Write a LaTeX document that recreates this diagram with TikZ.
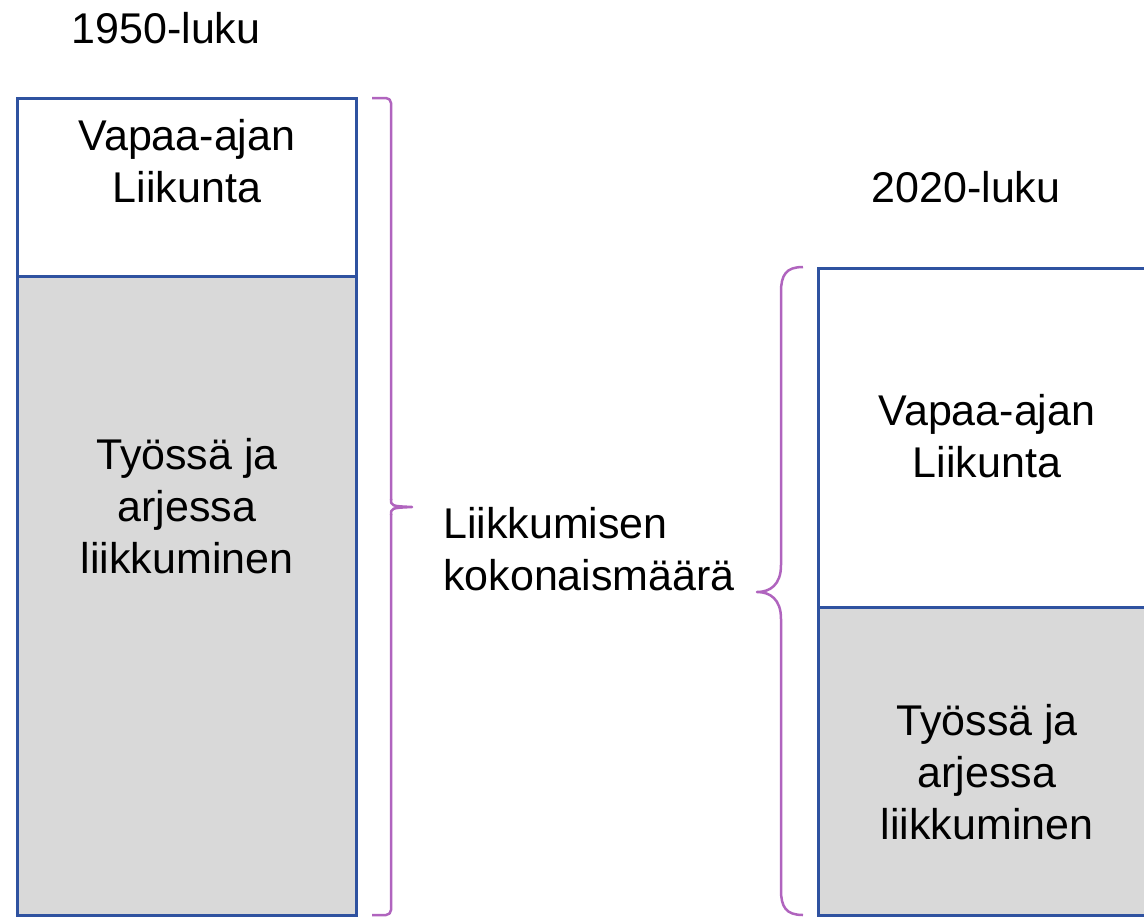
\documentclass[tikz,border=0pt]{standalone}
\usepackage{fontspec}
\setmainfont{Liberation Sans}
\definecolor{boxblue}{RGB}{47,82,160}
\definecolor{bracepurple}{RGB}{176,100,190}
\definecolor{boxgray}{RGB}{217,217,217}
\begin{document}
\begin{tikzpicture}[x=1pt,y=-1pt,
  lbl/.style={inner sep=0pt, align=center, font=\fontsize{43}{52}\selectfont},
  boxw/.style={draw=boxblue, line width=3pt, fill=white, minimum width=339pt, inner sep=0pt},
  boxg/.style={draw=boxblue, line width=3pt, fill=boxgray, minimum width=339pt, inner sep=0pt},
  brace/.style={draw=bracepurple, line width=2.5pt, line join=round}]
\useasboundingbox (0,0) rectangle (1144,918);
\clip (0,0) rectangle (1144,918);
% left column
\node[boxg, minimum height=639pt] (lb) at (186.5,595.5) {};
\node[boxw, minimum height=178pt] (lt) at (186.5,187) {};
% right column
\node[boxg, minimum height=308pt] (rb) at (987.5,761) {};
\node[boxw, minimum height=339pt] (rt) at (987.5,437.5) {};
% titles
\node[lbl] (t1) at (166,28) {1950-luku};
\node[lbl] (t2) at (966,187) {2020-luku};
% box texts
\node[lbl] (ltt) at (187,161) {Vapaa-ajan\\Liikunta};
\node[lbl] (lbt) at (187,506) {Työssä ja\\arjessa\\liikkuminen};
\node[lbl] (rtt) at (987,436.5) {Vapaa-ajan\\Liikunta};
\node[lbl] (rbt) at (987,772) {Työssä ja\\arjessa\\liikkuminen};
\node[lbl, align=left, anchor=west] (mid) at (443,549) {Liikkumisen\\kokonaismäärä};
% left brace
\draw[brace, rounded corners=5pt] (372,98) -- (391,98) -- (391,500);
\draw[brace] (391,499) .. controls (391,506) .. (412,507) .. controls (391,508) .. (391,515);
\draw[brace, rounded corners=5pt] (391,514) -- (391,915) -- (372,915);
% right brace
\draw[brace] (803,267) .. controls (786,267) and (781,275) .. (781,292) -- (781,565)
  .. controls (781,585) and (770,592) .. (757,592)
  .. controls (770,592) and (781,599) .. (781,619) -- (781,890)
  .. controls (781,907) and (786,915) .. (803,915);
\end{tikzpicture}
\end{document}
